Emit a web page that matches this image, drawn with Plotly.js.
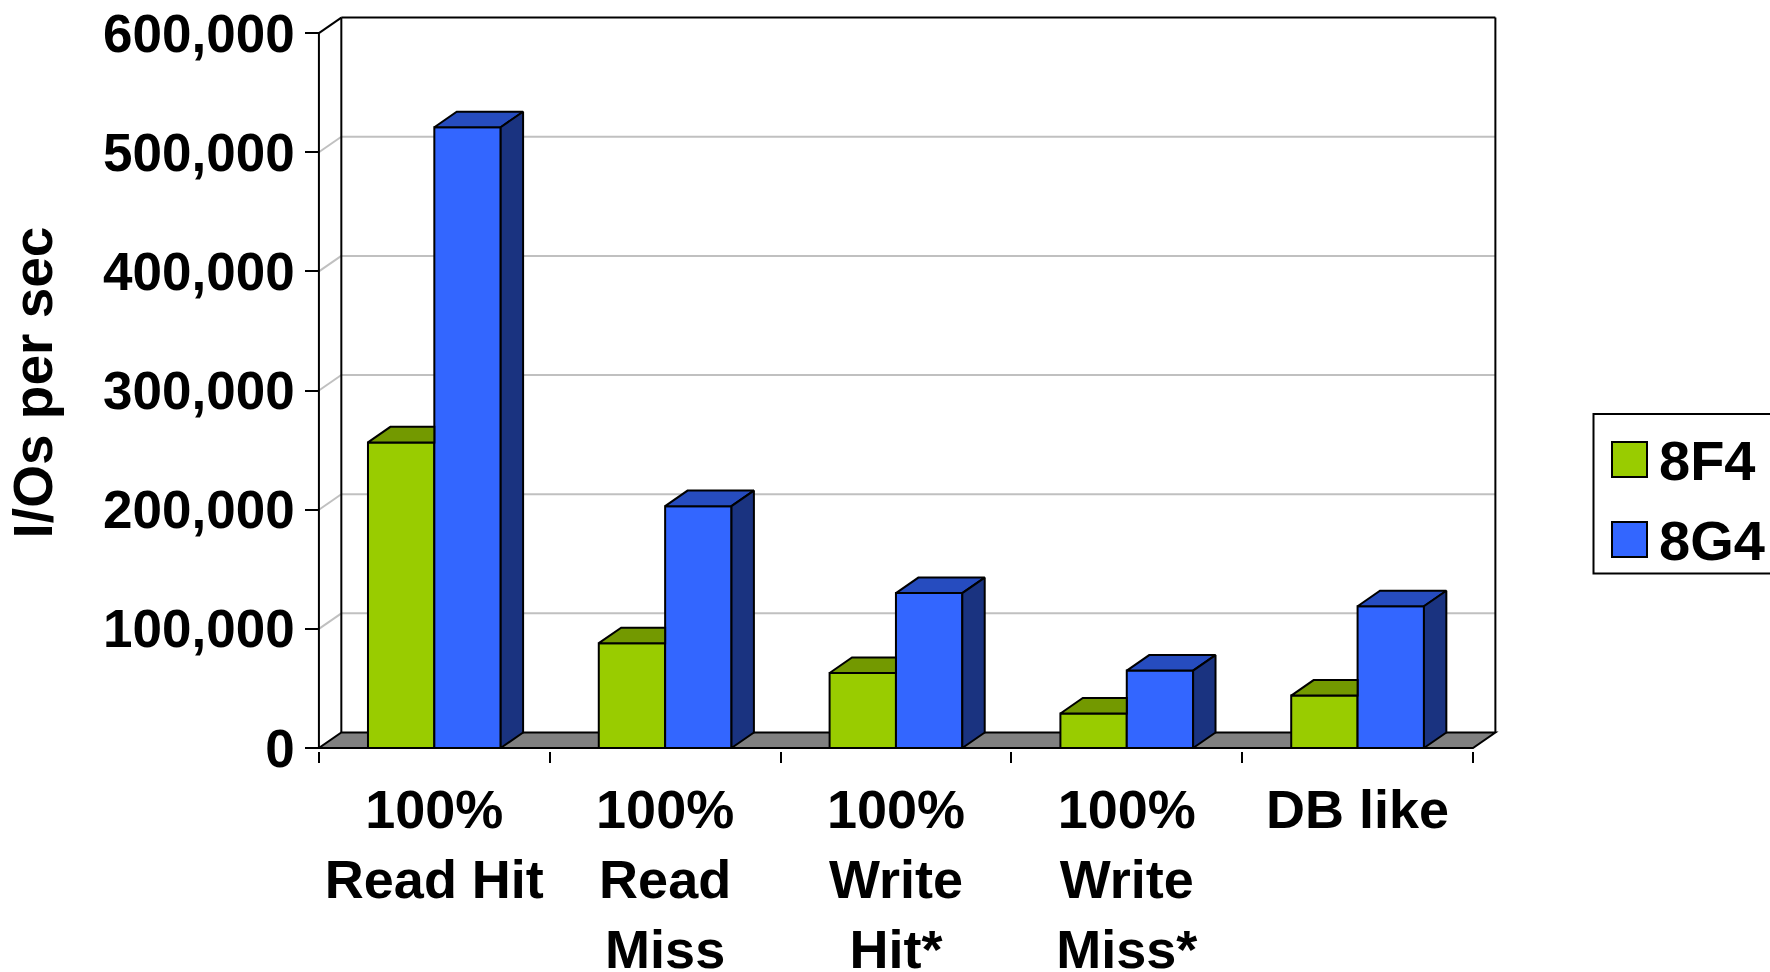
<!DOCTYPE html>
<html><head><meta charset="utf-8">
<script src="https://cdn.plot.ly/plotly-3.0.1.min.js"></script>
<style>html,body{margin:0;padding:0;background:#fff;} #chart{width:1770px;height:972px;}</style>
</head><body><div id="chart"></div>
<script>
// ---- data ----
const categories = ["100%<br>Read Hit", "100%<br>Read<br>Miss", "100%<br>Write<br>Hit*", "100%<br>Write<br>Miss*", "DB like"];
const seriesNames = ["8F4", "8G4"];
const values8F4 = [256500, 88000, 63000, 29000, 44000];
const values8G4 = [521000, 203000, 130000, 65000, 119000];
const yTickValues = [0, 100000, 200000, 300000, 400000, 500000, 600000];
const yTickLabels = ["0", "100,000", "200,000", "300,000", "400,000", "500,000", "600,000"];
const yAxisTitle = "I/Os per sec";

// ---- styles / geometry ----
const FONT = "Liberation Sans, Arial, Helvetica, sans-serif";
const colorsFront = ["#99CC00", "#3366FF"];
const colorsTop = ["#739900", "#264CBF"];
const colorsSide = ["#4D6600", "#1A3380"];
const W = 1770, H = 972;
const frontAxisPx = 319.3, zeroPx = 747.7, catPx = 230.8, yPxPerUnit = 714.4 / 600000;
const depthPxX = 22.4, depthPxY = 15.5;
const dxu = depthPxX / catPx, dyu = depthPxY / yPxPerUnit;
const xLo = -0.53, xHi = 4.5 + dxu + 0.02;
const yLo = -2500, yHi = 600000 + dyu + 3000;
const mL = frontAxisPx + (xLo + 0.5) * catPx;
const mR = W - (frontAxisPx + (xHi + 0.5) * catPx);
const mB = H - (zeroPx - yLo * yPxPerUnit);
const mT = zeroPx - yHi * yPxPerUnit;
const barW = 0.2875;
const offsets = [-barW, 0];

const idx = categories.map((_, i) => i);
const series = [values8F4, values8G4];
const yMax = yTickValues[yTickValues.length - 1];

const traces = [];
series.forEach((vals, s) => {
  traces.push({
    type: 'bar', x: idx, y: vals, width: barW, offset: offsets[s], name: seriesNames[s],
    marker: {color: colorsFront[s], line: {color: '#000', width: 2}},
    showlegend: false, hoverinfo: 'skip'
  });
});
// 3-D top and side faces, computed from the values
idx.forEach(i => {
  series.forEach((vals, s) => {
    const v = vals[i];
    const x0 = i + offsets[s], x1 = x0 + barW;
    const next = s < series.length - 1 ? series[s + 1][i] : null;
    const hidden = next !== null && next >= v + dyu;
    let tx, ty;
    if (hidden) {
      tx = [x0, x1, x1, x0 + dxu, x0];
      ty = [v, v, v + dyu, v + dyu, v];
    } else {
      tx = [x0, x1, x1 + dxu, x0 + dxu, x0];
      ty = [v, v, v + dyu, v + dyu, v];
    }
    traces.push({type: 'scatter', mode: 'lines', x: tx, y: ty, fill: 'toself', fillcolor: colorsTop[s],
      line: {color: '#000', width: 2}, showlegend: false, hoverinfo: 'skip'});
    if (!hidden) {
      traces.push({type: 'scatter', mode: 'lines',
        x: [x1, x1 + dxu, x1 + dxu, x1, x1], y: [0, dyu, v + dyu, v, 0],
        fill: 'toself', fillcolor: colorsSide[s], line: {color: '#000', width: 2},
        showlegend: false, hoverinfo: 'skip'});
    }
  });
});
// invisible trace so that the boundary-tick axis is drawn
traces.push({type: 'scatter', x: [0], y: [0], xaxis: 'x2', yaxis: 'y', mode: 'markers',
  marker: {opacity: 0}, showlegend: false, hoverinfo: 'skip'});

// ---- walls, floor, grid ----
const shapes = [];
const gridStyle = {color: '#C0C0C0', width: 2};
const blk = {color: '#000', width: 2};
const xL = -0.5, xR = categories.length - 0.5;
yTickValues.forEach(v => {
  if (v === 0 || v === yMax) return;
  shapes.push({type: 'line', xref: 'x', yref: 'y', layer: 'below', x0: xL + dxu, x1: xR + dxu, y0: v + dyu, y1: v + dyu, line: gridStyle});
  shapes.push({type: 'line', xref: 'x', yref: 'y', layer: 'below', x0: xL, x1: xL + dxu, y0: v, y1: v + dyu, line: gridStyle});
});
shapes.push({type: 'line', xref: 'x', yref: 'y', layer: 'below', x0: xL + dxu, x1: xL + dxu, y0: dyu, y1: yMax + dyu, line: blk});
shapes.push({type: 'line', xref: 'x', yref: 'y', layer: 'below', x0: xR + dxu, x1: xR + dxu, y0: dyu, y1: yMax + dyu, line: blk});
shapes.push({type: 'line', xref: 'x', yref: 'y', layer: 'below', x0: xL + dxu, x1: xR + dxu, y0: yMax + dyu, y1: yMax + dyu, line: blk});
shapes.push({type: 'line', xref: 'x', yref: 'y', layer: 'below', x0: xL, x1: xL + dxu, y0: yMax, y1: yMax + dyu, line: blk});
shapes.push({type: 'line', xref: 'x', yref: 'y', layer: 'below', x0: xL, x1: xL, y0: 0, y1: yMax, line: blk});
shapes.push({type: 'path', xref: 'x', yref: 'y', layer: 'below',
  path: `M${xL},0 L${xR},0 L${xR + dxu},${dyu} L${xL + dxu},${dyu} Z`,
  fillcolor: '#808080', line: blk});

// ---- manual legend (paper coordinates) ----
const gL = Math.round(mL), gR = Math.round(mR), gT = Math.round(mT), gB = Math.round(mB);
const gW = W - gL - gR, gH = H - gT - gB;
const px = x => (x - gL) / gW;
const py = y => 1 - (y - gT) / gH;
shapes.push({type: 'rect', xref: 'paper', yref: 'paper', x0: px(1593.5), x1: px(1800), y0: py(573.5), y1: py(414),
  line: blk, fillcolor: '#fff'});
const legendRows = [{cy: 459.5}, {cy: 539.5}];
const annotations = [];
seriesNames.forEach((n, s) => {
  const cy = legendRows[s].cy;
  shapes.push({type: 'rect', xref: 'paper', yref: 'paper', x0: px(1612), x1: px(1647), y0: py(cy + 17.5), y1: py(cy - 17.5),
    line: {color: '#000', width: 2}, fillcolor: colorsFront[s]});
  annotations.push({xref: 'paper', yref: 'paper', x: px(1657), y: py(cy + 1), xanchor: 'left', yanchor: 'middle',
    text: n, showarrow: false, font: {family: FONT, size: 56, weight: 'bold', color: '#000'}});
});

const layout = {
  width: W, height: H,
  margin: {l: mL, r: mR, t: mT, b: mB, pad: 0},
  paper_bgcolor: '#fff', plot_bgcolor: 'rgba(0,0,0,0)',
  showlegend: false, hovermode: false, barmode: 'overlay',
  font: {family: FONT, color: '#000'},
  xaxis: {type: 'linear', range: [xLo, xHi], tickmode: 'array', tickvals: idx, ticktext: categories,
    ticks: '', showgrid: false, zeroline: false, showline: false, fixedrange: true,
    tickfont: {family: FONT, size: 54, weight: 'bold', color: '#000'}, ticklabelstandoff: 22},
  xaxis2: {type: 'linear', overlaying: 'x', anchor: 'y', range: [xLo, xHi], tickmode: 'array',
    tickvals: idx.concat([categories.length]).map(i => i - 0.5), showticklabels: false,
    ticks: 'outside', ticklen: 11, tickwidth: 2, tickcolor: '#000',
    showgrid: false, zeroline: false, showline: false, fixedrange: true},
  yaxis: {type: 'linear', range: [yLo, yHi], anchor: 'free', position: (frontAxisPx - gL) / gW,
    tickmode: 'array', tickvals: yTickValues, ticktext: yTickLabels,
    ticks: 'outside', ticklen: 14, tickwidth: 2, tickcolor: '#000',
    showgrid: false, zeroline: false, showline: false, fixedrange: true,
    tickfont: {family: FONT, size: 53, weight: 'bold', color: '#000'},
    title: {text: yAxisTitle, font: {family: FONT, size: 55, weight: 'bold', color: '#000'}, standoff: 31}},
  shapes: shapes, annotations: annotations
};
Plotly.newPlot('chart', traces, layout, {staticPlot: true, displayModeBar: false});
</script></body></html>
